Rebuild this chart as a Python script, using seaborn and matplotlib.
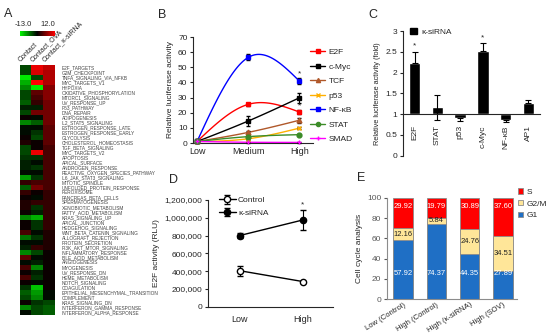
import numpy as np
import pandas as pd
import matplotlib
matplotlib.use("Agg")
import matplotlib.pyplot as plt
import seaborn as sns
from matplotlib.colors import LinearSegmentedColormap
from matplotlib.lines import Line2D
from matplotlib.patches import Patch
from matplotlib.ticker import FuncFormatter

# ---------------- data ----------------
# A: hallmark gene sets heatmap
gene_sets = [
    "E2F_TARGETS", "G2M_CHECKPOINT", "TNFA_SIGNALING_VIA_NFKB", "MYC_TARGETS_V1",
    "HYPOXIA", "OXIDATIVE_PHOSPHORYLATION", "MTORC1_SIGNALING", "UV_RESPONSE_UP",
    "P53_PATHWAY", "DNA_REPAIR", "ADIPOGENESIS", "IL2_STAT5_SIGNALING",
    "ESTROGEN_RESPONSE_LATE", "ESTROGEN_RESPONSE_EARLY", "GLYCOLYSIS",
    "CHOLESTEROL_HOMEOSTASIS", "TGF_BETA_SIGNALING", "MYC_TARGETS_V2", "APOPTOSIS",
    "APICAL_SURFACE", "ANDROGEN_RESPONSE", "REACTIVE_OXYGEN_SPECIES_PATHWAY",
    "IL6_JAK_STAT3_SIGNALING", "MITOTIC_SPINDLE", "UNFOLDED_PROTEIN_RESPONSE",
    "PEROXISOME", "PANCREAS_BETA_CELLS", "SPERMATOGENESIS", "XENOBIOTIC_METABOLISM",
    "FATTY_ACID_METABOLISM", "KRAS_SIGNALING_UP", "APICAL_JUNCTION",
    "HEDGEHOG_SIGNALING", "WNT_BETA_CATENIN_SIGNALING", "ALLOGRAFT_REJECTION",
    "PROTEIN_SECRETION", "PI3K_AKT_MTOR_SIGNALING", "INFLAMMATORY_RESPONSE",
    "BILE_ACID_METABOLISM", "ANGIOGENESIS", "MYOGENESIS", "UV_RESPONSE_DN",
    "HEME_METABOLISM", "NOTCH_SIGNALING", "COAGULATION",
    "EPITHELIAL_MESENCHYMAL_TRANSITION", "COMPLEMENT", "KRAS_SIGNALING_DN",
    "INTERFERON_GAMMA_RESPONSE", "INTERFERON_ALPHA_RESPONSE",
]
heat_cols = ["Contact", "Contact_OVA", "Contact_κ-siRNA"]
contact = [-4, -4, -12, -9, -7, -4, -4, -5, -2, -4, 0, -7, -1, -1, 0, 1, -4, -4, -3, -2,
           -2, -1, -8, 2, -5, 2, 0, 1, 1, 0, -7, 0, 0, 3, -6, -1, -2, -7, 4, -1,
           3, 0, 3, 0, -3, -5, -4, 0, -7, -1]
contact_ova = [11, 10, -4, 12, -12, 4, 3, 2, -2, 5, -1, -5, -1, -3, -4, 0, 0, 11, -3, -1,
               -3, -1, -3, 3, 5, 0, -1, 2, -3, -2, -9, -3, -3, -1, -3, -1, 2, -4, -1, -2,
               -7, -2, -3, -1, -10, -8, -7, -3, -4, -4]
contact_sirna = [9, 8, 8, 8, 6, 6, 6, 5, 5, 5, 5, 5, 4, 4, 4, 4, 3, 3, 3, 3,
                 3, 3, 3, 3, 3, 2, 2, 2, 2, 2, 2, 2, 2, 1, 1, 1, 1, 0, 0, 0,
                 0, 0, 0, 0, 0, -1, -1, -4, -5, -5]

# B: luciferase reporters
levels = ["Low", "Medium", "High"]
b_names = ["E2F", "c-Myc", "TCF", "p53", "NF-κB", "STAT", "SMAD"]
b_e2f = [1, 25.5, 20.5]
b_cmyc = [1, 14.5, 29.8]
b_tcf = [1, 7, 15]
b_p53 = [1, 2.8, 9.8]
b_nfkb = [1, 56.5, 41]
b_stat = [1, 4.2, 5.5]
b_smad = [1, 0.5, 0.4]
b_e2f_err = [0.3, 1.0, 1.3]
b_cmyc_err = [0.3, 3.5, 3.5]
b_tcf_err = [0.3, 0.8, 1.6]
b_p53_err = [0.3, 0.5, 0.5]
b_nfkb_err = [0.3, 2.0, 1.8]
b_stat_err = [0.3, 0.8, 0.5]
b_smad_err = [0.2, 0.2, 0.2]

# C: fold change
c_names = ["E2F", "STAT", "p53", "c-Myc", "NF-κB", "AP1"]
c_vals = [2.22, 1.17, 0.90, 2.53, 0.87, 1.26]
c_err_lo = [0.0, 0.30, 0.07, 0.0, 0.07, 0.0]
c_err_hi = [0.27, 0.30, 0.0, 0.17, 0.0, 0.09]

# D: E2F activity
d_levels = ["Low", "High"]
d_control = [405000, 283000]
d_control_err = [55000, 8000]
d_sirna = [800000, 975000]
d_sirna_err = [28000, 115000]

# E: cell cycle
e_groups = ["Low (Control)", "High (Control)", "High (κ-siRNA)", "High (SOV)"]
e_g1 = [57.92, 74.37, 44.35, 27.89]
e_g2m = [12.16, 5.84, 24.76, 34.51]
e_s = [29.92, 19.79, 30.89, 37.60]

# ---------------- style ----------------
sns.set_style("ticks")
plt.rcParams["font.family"] = ["Liberation Sans", "DejaVu Sans"]
plt.rcParams["axes.linewidth"] = 0.8

W, H = 550, 336
fig = plt.figure(figsize=(W / 100, H / 100), dpi=100)


def box(l, t, r, b):
    return [l / W, 1 - b / H, (r - l) / W, (b - t) / H]


def smooth(y, n=40):
    # natural cubic spline through three equally spaced points
    y0, y1, y2 = y
    m1 = 1.5 * (y0 - 2 * y1 + y2)
    t = np.linspace(0, 1, n)
    s1 = m1 * t ** 3 / 6 + y0 * (1 - t) + (y1 - m1 / 6) * t
    s2 = m1 * (1 - t) ** 3 / 6 + (y1 - m1 / 6) * (1 - t) + y2 * t
    return np.r_[t, 1 + t], np.r_[s1, s2]


# ---------------- A: heatmap ----------------
ax_a = fig.add_axes(box(19.5, 65, 55, 315))
cax = fig.add_axes(box(19.5, 31, 55, 36))
cmap = LinearSegmentedColormap.from_list("gbr", ["#00FF00", "#000000", "#FF0000"])
heat = pd.DataFrame(dict(zip(heat_cols, [contact, contact_ova, contact_sirna])), index=gene_sets)
sns.heatmap(heat, ax=ax_a, cmap=cmap, vmin=-13, vmax=12, cbar_ax=cax,
            cbar_kws={"orientation": "horizontal"}, xticklabels=False, yticklabels=True)
ax_a.yaxis.tick_right()
ax_a.tick_params(axis="y", length=0, pad=5, labelsize=3.4, labelcolor="#444444", rotation=0)
ax_a.set_ylabel("")
for i, name in enumerate(heat_cols):
    ax_a.text(i + 0.2, -0.4, name, rotation=45, rotation_mode="anchor",
              ha="left", va="bottom", fontsize=5, clip_on=False)
cax.set_xticks([])
cax.set_yticks([])
fig.text(15 / W, 1 - 25 / H, "-13.0", fontsize=5.5, ha="left", va="center")
fig.text(55 / W, 1 - 25 / H, "12.0", fontsize=5.5, ha="right", va="center")

# ---------------- B: luciferase curves ----------------
ax_b = fig.add_axes(box(193, 37, 313, 143))
b_vals = [b_e2f, b_cmyc, b_tcf, b_p53, b_nfkb, b_stat, b_smad]
b_errs = [b_e2f_err, b_cmyc_err, b_tcf_err, b_p53_err, b_nfkb_err, b_stat_err, b_smad_err]
b_colors = ["#FF0000", "#000000", "#B0582A", "#FFB000", "#0000FF", "#3C8C28", "#FF00FF"]
b_markers = ["s", "s", "^", "x", "s", "o", "+"]
xb = np.arange(len(levels))
for vals, errs, col, mk in zip(b_vals, b_errs, b_colors, b_markers):
    xs, ys = smooth(vals)
    ax_b.plot(xs, ys, color=col, lw=1, zorder=2, clip_on=False)
    ax_b.errorbar(xb, vals, yerr=errs, fmt=mk, color=col, ecolor="black", ms=3.5,
                  mew=1, capsize=1.5, elinewidth=0.8, clip_on=False, zorder=3)
ax_b.set_xlim(-0.08, 2.27)
ax_b.set_ylim(0, 70)
ax_b.set_yticks(range(0, 71, 10))
ax_b.set_xticks(xb)
ax_b.set_xticklabels(levels)
ax_b.tick_params(axis="x", length=0, labelsize=6.5, pad=3)
ax_b.tick_params(axis="y", length=2.5, width=0.8, labelsize=6, pad=1.5)
ax_b.set_ylabel("Relative luciferase activity", fontsize=6, labelpad=3)
sns.despine(ax=ax_b)
ax_b.text(2, 43.5, "*", ha="center", va="bottom", fontsize=6)
ax_b.text(2, 22.5, "*", ha="center", va="bottom", fontsize=6)
handles = [Line2D([], [], color=c, marker=m, ms=3, lw=1) for c, m in zip(b_colors, b_markers)]
ax_b.legend(handles, b_names, loc="upper left", bbox_to_anchor=(0.97, 0.9), frameon=False,
            fontsize=6, handlelength=1.8, handletextpad=0.4, labelspacing=0.8,
            borderpad=0.1, borderaxespad=0)

# ---------------- C: fold change bars ----------------
ax_c = fig.add_axes(box(403, 31, 540, 155.7))
xc = np.arange(len(c_names))
ax_c.bar(xc, np.array(c_vals) - 1, bottom=1, width=0.5, color="black")
ax_c.errorbar(xc, c_vals, yerr=[c_err_lo, c_err_hi], fmt="none", ecolor="black",
              elinewidth=0.8, capsize=2, capthick=0.8)
ax_c.spines["bottom"].set_position(("data", 1))
sns.despine(ax=ax_c)
ax_c.set_xlim(-0.52, 5.52)
ax_c.set_ylim(0, 3)
ax_c.set_yticks(np.arange(0, 3.01, 0.5))
ax_c.set_yticklabels(["0", "0.5", "1", "1.5", "2", "2.5", "3"])
ax_c.set_xticks(xc)
ax_c.set_xticklabels(c_names, rotation=90, va="top")
ax_c.tick_params(axis="x", length=0, pad=8, labelsize=6)
ax_c.tick_params(axis="y", length=2.5, width=0.8, labelsize=6, pad=1.5)
ax_c.set_ylabel("Relative luciferase activity (fold)", fontsize=5.3, labelpad=3)
ax_c.text(0, 2.55, "*", ha="center", va="bottom", fontsize=6)
ax_c.text(3, 2.76, "*", ha="center", va="bottom", fontsize=6)
ax_c.legend([Patch(color="black")], ["κ-siRNA"], loc="upper left", bbox_to_anchor=(0.04, 1.04),
            frameon=False, fontsize=6, handlelength=0.8, handleheight=0.8,
            handletextpad=0.5, borderaxespad=0, borderpad=0.2)

# ---------------- D: E2F activity ----------------
ax_d = fig.add_axes(box(208, 200, 333, 306.7))
xd = np.arange(len(d_levels))
ax_d.errorbar(xd, d_control, yerr=d_control_err, fmt="-o", color="black", mfc="white",
              mec="black", ms=4.5, lw=1, mew=1, capsize=2, elinewidth=0.8, label="Control")
ax_d.errorbar(xd, d_sirna, yerr=d_sirna_err, fmt="-o", color="black", mfc="black",
              ms=4.5, lw=1, capsize=2, elinewidth=0.8, label="κ-siRNA")
ax_d.set_xlim(-0.5, 1.48)
ax_d.set_ylim(0, 1200000)
ax_d.set_yticks(range(0, 1200001, 200000))
ax_d.yaxis.set_major_formatter(FuncFormatter(lambda v, p: f"{v:,.0f}"))
ax_d.set_xticks(xd)
ax_d.set_xticklabels(d_levels)
ax_d.tick_params(axis="x", length=0, labelsize=6.5, pad=6)
ax_d.tick_params(axis="y", length=2.5, width=0.8, labelsize=6, pad=1.5)
ax_d.set_ylabel("E2F activity (RLU)", fontsize=6, labelpad=3)
sns.despine(ax=ax_d)
ax_d.text(1, 1110000, "*", ha="center", va="bottom", fontsize=6)
ax_d.legend(loc="upper left", bbox_to_anchor=(0.08, 1.04), frameon=False, fontsize=6,
            handlelength=2.0, handletextpad=0.3, labelspacing=0.6, borderaxespad=0,
            borderpad=0.1)

# ---------------- E: cell cycle stacked bars ----------------
ax_e = fig.add_axes(box(386.7, 197.7, 516.7, 299.3))
cc = pd.DataFrame({"group": e_groups, "G1": e_g1, "G2/M": e_g2m, "S": e_s})
cc["g1_g2m"] = cc["G1"] + cc["G2/M"]
cc["total"] = cc["g1_g2m"] + cc["S"]
seg_colors = {"S": "#FF0000", "G2/M": "#FFE699", "G1": "#1F6FC5"}
for col, key in [("total", "S"), ("g1_g2m", "G2/M"), ("G1", "G1")]:
    sns.barplot(data=cc, x="group", y=col, color=seg_colors[key], saturation=1, width=0.58,
                edgecolor="#8C8C8C", linewidth=0.6, ax=ax_e)
for i, row in cc.iterrows():
    ax_e.text(i, 91, f"{row['S']:.2f}", ha="center", va="center", fontsize=5.5, color="white")
    ax_e.text(i, row["G1"] + row["G2/M"] / 2, f"{row['G2/M']:.2f}", ha="center",
              va="center", fontsize=5.5, color="#222222")
    ax_e.text(i, 25.5, f"{row['G1']:.2f}", ha="center", va="center", fontsize=5.5, color="white")
ax_e.set_xlim(-0.49, 3.41)
ax_e.set_ylim(0, 100)
ax_e.set_yticks(range(0, 101, 20))
ax_e.set_xlabel("")
ax_e.set_ylabel("Cell cycle analysis", fontsize=6, labelpad=3)
ax_e.set_xticks(range(len(e_groups)))
ax_e.set_xticklabels(e_groups, rotation=32, ha="right", rotation_mode="anchor")
ax_e.tick_params(axis="x", length=0, labelsize=5.5, pad=1.5)
ax_e.tick_params(axis="y", length=2.5, width=0.8, labelsize=6, pad=1.5, colors="#595959")
for sp in ["left", "bottom"]:
    ax_e.spines[sp].set_color("#8C8C8C")
sns.despine(ax=ax_e)
leg_handles = [Patch(facecolor=seg_colors[k], edgecolor="#8C8C8C", lw=0.6) for k in ["S", "G2/M", "G1"]]
ax_e.legend(leg_handles, ["S", "G2/M", "G1"], loc="upper left", bbox_to_anchor=(1.0, 1.1),
            frameon=False, fontsize=6, handlelength=0.6, handleheight=0.6,
            handletextpad=0.5, labelspacing=0.5, borderaxespad=0, borderpad=0.1)

# ---------------- panel letters ----------------
for letter, px, py in [("A", 8, 14), ("B", 162, 15), ("C", 373, 15), ("D", 173, 180), ("E", 361, 178)]:
    fig.text(px / W, 1 - py / H, letter, fontsize=9, ha="center", va="center")

fig.savefig("out.png", dpi=100)
